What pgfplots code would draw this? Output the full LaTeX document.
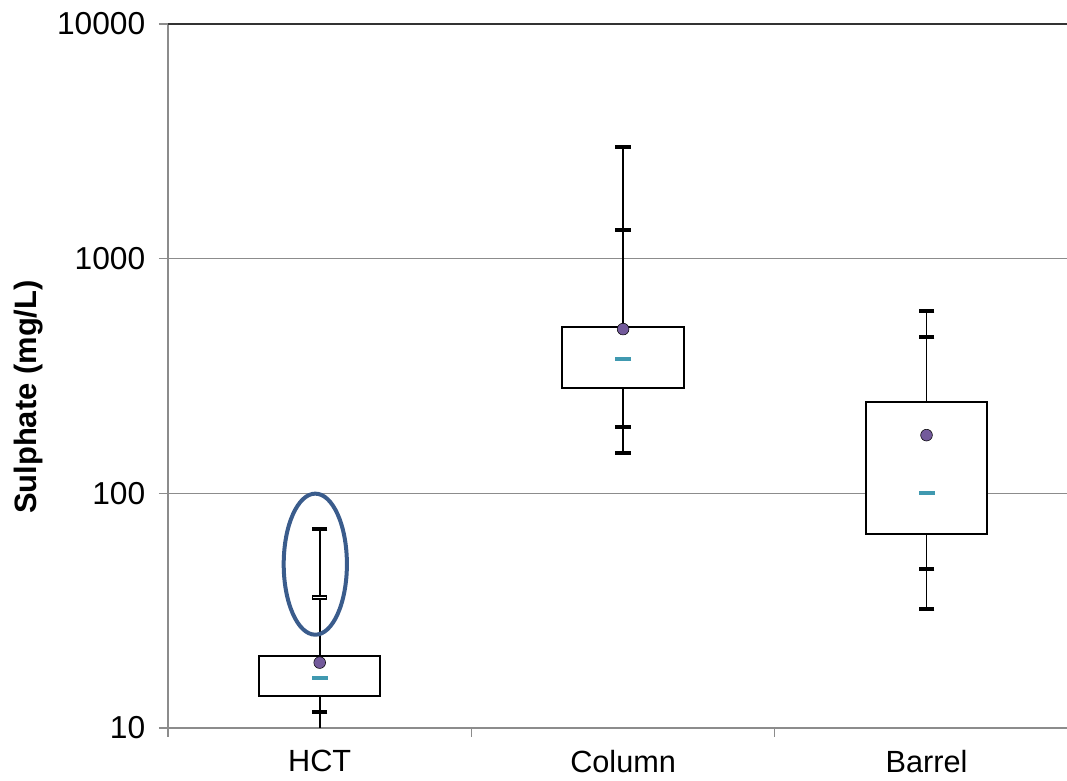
\documentclass[border=0pt]{standalone}
\usepackage{fontspec}
\setmainfont{Liberation Sans}
\usepackage{pgfplots}
\pgfplotsset{compat=1.18}
\definecolor{gridc}{HTML}{8C8C8C}
\definecolor{medc}{HTML}{4099B0}
\definecolor{meanc}{HTML}{735A9B}
\definecolor{ellc}{HTML}{3A5C8C}
\begin{document}
\begin{tikzpicture}
\begin{axis}[
  at={(0,0)}, anchor=south west,
  scale only axis, width=674.25pt, height=528pt,
  xmin=-0.5, xmax=2.463,
  ymode=log, ymin=10, ymax=10000,
  axis x line=bottom, axis y line=left,
  axis line style={-, gridc, line width=1.5pt},
  ytick={10,100,1000}, yticklabels={10,100,1000},
  extra y ticks={10000}, extra y tick labels={10000},
  extra y tick style={ymajorgrids=true, major grid style={black!80, line width=1.5pt}},
  yminorticks=false,
  ymajorgrids, major grid style={gridc, line width=1pt},
  xtick={0,1,2}, xticklabels={HCT,Column,Barrel},
  minor xtick={-0.5,0.5,1.5},
  major x tick style={draw=none},
  tick align=outside, tick style={gridc, line width=1pt},
  major tick length=6.75pt, minor tick length=6.75pt,
  yticklabel style={font=\fontsize{23.8}{28}\selectfont, xshift=-6.75pt},
  xticklabel style={font=\fontsize{23}{28}\selectfont, yshift=-8.5pt, inner sep=1pt},
  ylabel={\bfseries Sulphate (mg/L)},
  ylabel style={font=\fontsize{23.2}{28}\selectfont, at={(axis description cs:-0.1546,0.470)}, anchor=center},
]
% whiskers
\addplot[black, line width=1.3pt] coordinates {(0,9) (0,70.3)};
\addplot[black, line width=1.3pt] coordinates {(1,149) (1,2999)};
\addplot[black, line width=1.3pt] coordinates {(2,32.1) (2,598)};
% boxes
\addplot[black, line width=1.5pt, fill=white] coordinates {(-0.2,13.7) (0.2,13.7) (0.2,20.3) (-0.2,20.3)} -- cycle;
\addplot[black, line width=1.5pt, fill=white] coordinates {(0.8,282) (1.2,282) (1.2,512) (0.8,512)} -- cycle;
\addplot[black, line width=1.5pt, fill=white] coordinates {(1.8,67.2) (2.2,67.2) (2.2,245) (1.8,245)} -- cycle;
% caps
\addplot[only marks, mark=-, mark size=5.8pt, mark options={line width=3pt, black}] coordinates {(0,11.7) (0,70.3) (1,149) (1,192) (1,1327) (1,2999) (2,32.1) (2,47.4) (2,465) (2,598)};
% hollow cap
\addplot[only marks, mark=-, mark size=5.6pt, mark options={line width=3.2pt, black}] coordinates {(0,36)};
\addplot[only marks, mark=-, mark size=4.7pt, mark options={line width=1.4pt, white}] coordinates {(0,36)};
% medians
\addplot[only marks, mark=-, mark size=6pt, mark options={line width=3pt, medc}] coordinates {(0,16.4) (1,375) (2,100)};
% means
\addplot[only marks, mark=*, mark size=4.4pt, mark options={draw=none, fill=meanc}] coordinates {(0,19.0) (1,501) (2,177)};
% annotation ellipse
\draw[ellc, line width=3pt] (axis cs:-0.0145,49.9) ellipse [x radius=23.7pt, y radius=52.9pt];
\end{axis}
\pgfresetboundingbox
\useasboundingbox (-126pt,-39.75pt) rectangle (674.25pt,546pt);
\end{tikzpicture}
\end{document}
